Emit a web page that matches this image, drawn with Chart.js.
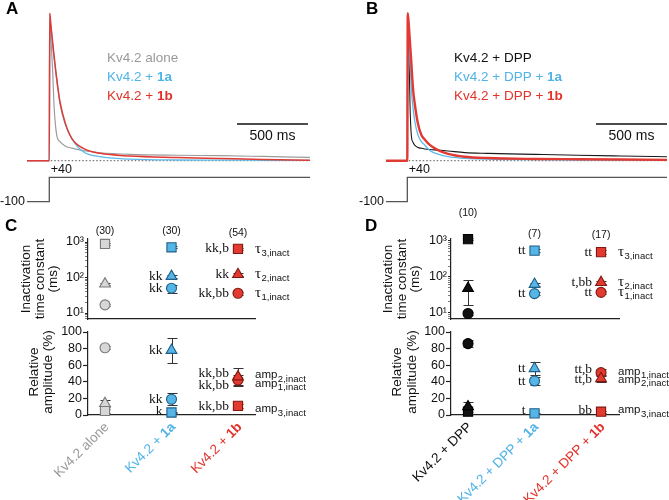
<!DOCTYPE html>
<html lang="en">
<head>
<meta charset="UTF-8">
<title>Kv4.2 inactivation with 1a / 1b</title>
<script src="https://cdn.jsdelivr.net/npm/chart.js"></script>
<style>
  body { margin: 0; background: #fff; }
  #fig { position: relative; width: 669px; height: 500px; overflow: hidden; }
  #fig canvas { position: absolute; left: 0; top: 0; }
</style>
</head>
<body>
<div id="fig">
  <canvas id="traceA" width="669" height="500"></canvas>
  <canvas id="traceB" width="669" height="500"></canvas>
  <canvas id="tauC" width="669" height="500"></canvas>
  <canvas id="ampC" width="669" height="500"></canvas>
  <canvas id="tauD" width="669" height="500"></canvas>
  <canvas id="ampD" width="669" height="500"></canvas>
</div>
<script>
  // ---------- traces (current normalised to peak, time in ms from the step) ----------
  const tA = [-157, 0, 3, 12, 24, 33, 52, 75, 111, 158, 239, 357, 568, 900, 1200, 1500, 1835];
  const aloneA = [0, 0, 1.0, 0.82, 0.60, 0.38, 0.175, 0.129, 0.10, 0.085, 0.068, 0.054, 0.043, 0.037, 0.034, 0.029, 0.023];
  const with1aA = [0, 0, 0.98, 0.90, 0.78, 0.70, 0.55, 0.39, 0.25, 0.15, 0.061, 0.027, 0.011, 0.005, 0.004, 0.003, 0.002];
  const with1bA = [0, 0, 1.0, 0.91, 0.80, 0.717, 0.559, 0.40, 0.26, 0.152, 0.084, 0.05, 0.032, 0.022, 0.015, 0.008, 0.003];

  const tB = [-150, 0, 3, 12, 19, 28, 40, 52, 75, 99, 122, 158, 216, 287, 404, 568, 900, 1200, 1500, 1828];
  const dppB = [0, 0, 1.0, 0.717, 0.38, 0.174, 0.125, 0.106, 0.09, 0.084, 0.08, 0.076, 0.072, 0.066, 0.055, 0.05, 0.043, 0.037, 0.032, 0.027];
  const dpp1aB = [0, 0, 1.0, 0.85, 0.69, 0.49, 0.36, 0.27, 0.174, 0.13, 0.107, 0.07, 0.045, 0.027, 0.016, 0.011, 0.007, 0.005, 0.004, 0.003];
  const dpp1bB = [0, 0, 1.0, 0.90, 0.80, 0.67, 0.49, 0.39, 0.25, 0.174, 0.145, 0.107, 0.072, 0.047, 0.027, 0.018, 0.012, 0.01, 0.008, 0.006];

  // voltage protocol (mV) and the 500 ms scale bar
  const stepT = [-300, 0, 0, 2000];
  const stepMV = [-100, -100, 40, 40];
  const barLevel = 0.249;
  const barA = [1321, 1821];
  const barB = [1328, 1828];

  // ---------- summary data ----------
  const catsC = ['Kv4.2 alone', 'Kv4.2 + 1a', 'Kv4.2 + 1b'];
  const nC = ['(30)', '(30)', '(54)'];
  const tau1C = [17, 50, 36], tau1CErr = [1.5, 13, 3];
  const tau2C = [66, 108, 122], tau2CErr = [6, 10, 10];
  const tau3C = [880, 710, 640], tau3CErr = [60, 50, 60];
  const amp1C = [81, 19, 42], amp1CErr = [2, 7, 6];
  const amp2C = [14, 78, 46], amp2CErr = [4, 15, 11];
  const amp3C = [5, 3, 11], amp3CErr = [2, 1, 2];
  const sigTau1C = ['', 'kk', 'kk,bb'], sigTau2C = ['', 'kk', 'kk'], sigTau3C = ['', '', 'kk,b'];
  const sigAmp1C = ['', 'kk', 'kk,bb'], sigAmp2C = ['', 'kk', 'kk,bb'], sigAmp3C = ['', 'k', 'kk,bb'];

  const catsD = ['Kv4.2 + DPP', 'Kv4.2 + DPP + 1a', 'Kv4.2 + DPP + 1b'];
  const nD = ['(10)', '(7)', '(17)'];
  const tau1D = [9.5, 34, 37], tau1DErr = [1, 3, 3];
  const tau2D = [48, 62, 70], tau2DErr = [32, 5, 6];
  const tau3D = [1130, 540, 490], tau3DErr = [80, 50, 60];
  const amp1D = [86, 41, 51], amp1DErr = [4, 5, 4];
  const amp2D = [10, 56, 44], amp2DErr = [6, 8, 4];
  const amp3D = [4, 2, 4], amp3DErr = [3, 1, 1];
  const sigTau1D = ['', 'tt', 'tt'], sigTau2D = ['', '', 't,bb'], sigTau3D = ['', 'tt', 'tt'];
  const sigAmp1D = ['', 'tt', 'tt,b'], sigAmp2D = ['', 'tt', 'tt,b'], sigAmp3D = ['', 't', 'bb'];

  const logTicks = [10, 100, 1000];
  const logTickLabels = ['10¹', '10²', '10³'];
  const ampTicks = [0, 20, 40, 60, 80, 100];

  // ---------- colours ----------
  const textC = ['#9a9a9a', '#4fb3e6', '#e2332b'];
  const fillC = ['#d7d7d7', '#55b5e7', '#e23a2f'];
  const edgeC = ['#7a7a7a', '#1f5f86', '#7f1812'];
  const textD = ['#111111', '#4fb3e6', '#e2332b'];
  const fillD = ['#111111', '#55b5e7', '#e23a2f'];
  const edgeD = ['#000000', '#1f5f86', '#7f1812'];

  const SANS = '"Liberation Sans", Arial, Helvetica, sans-serif';
  const SERIF = '"Liberation Serif", "Times New Roman", serif';
  const font = (size, bold) => (bold ? 'bold ' : '') + size + 'px ' + SANS;

  // "Kv4.2 + 1a" -> plain part + bold "1a"
  function labelParts(label) {
    const k = label.lastIndexOf(' ');
    const tail = label.slice(k + 1);
    if (/^1[ab]$/.test(tail)) return [[label.slice(0, k + 1), false], [tail, true]];
    return [[label, false]];
  }

  function drawParts(ctx, label, x, y, color, size, align) {
    const parts = labelParts(label);
    let w = 0;
    parts.forEach(([t, b]) => { ctx.font = font(size, b); w += ctx.measureText(t).width; });
    let cx = align === 'right' ? x - w : x;
    ctx.fillStyle = color;
    ctx.textAlign = 'left';
    ctx.textBaseline = 'middle';
    parts.forEach(([t, b]) => { ctx.font = font(size, b); ctx.fillText(t, cx, y); cx += ctx.measureText(t).width; });
  }

  const common = {
    responsive: false,
    animation: false,
    events: [],
    plugins: { legend: { display: false }, tooltip: { enabled: false } }
  };

  // ---------- panels A and B ----------
  function traceChart(id, cfg) {
    const datasets = cfg.traces.map(tr => ({
      data: cfg.t.map((t, i) => ({ x: t, y: tr.values[i] })),
      borderColor: tr.color,
      borderWidth: tr.width,
      pointRadius: 0,
      cubicInterpolationMode: 'monotone'
    }));
    datasets.push({
      data: [{ x: -1000, y: 0 }, { x: 3000, y: 0 }],
      borderColor: '#555', borderWidth: 1, borderDash: [1.5, 2], pointRadius: 0
    });
    datasets.push({
      yAxisID: 'v',
      data: stepT.map((t, i) => ({ x: t, y: stepMV[i] })),
      borderColor: '#555', borderWidth: 1.3, pointRadius: 0
    });
    datasets.push({
      data: cfg.bar.map(t => ({ x: t, y: barLevel })),
      borderColor: '#111', borderWidth: 1.6, pointRadius: 0
    });

    const textPlugin = {
      id: 'traceText',
      afterDraw(chart) {
        const { ctx, chartArea, scales: { x, y, v } } = chart;
        ctx.save();
        ctx.fillStyle = '#000';
        ctx.font = font(17, true);
        ctx.textAlign = 'left';
        ctx.textBaseline = 'middle';
        ctx.fillText(cfg.letter, cfg.letterX, 9);
        [58, 77, 96.5].forEach((ly, i) => drawParts(ctx, cfg.legend[i], cfg.legendX, ly, cfg.legendColors[i], 13.5, 'left'));
        ctx.fillStyle = '#111';
        ctx.font = font(12.5);
        ctx.textAlign = 'right';
        ctx.textBaseline = 'middle';
        ctx.fillText('-100', chartArea.left - 2, v.getPixelForValue(-100));
        ctx.textAlign = 'left';
        ctx.textBaseline = 'bottom';
        ctx.fillText('+40', x.getPixelForValue(0) + 1.5, v.getPixelForValue(40) - 1);
        ctx.font = font(14);
        ctx.textAlign = 'center';
        ctx.textBaseline = 'top';
        const mid = (x.getPixelForValue(cfg.bar[0]) + x.getPixelForValue(cfg.bar[1])) / 2;
        ctx.fillText('500 ms', mid, y.getPixelForValue(barLevel) + 5);
        ctx.restore();
      }
    };

    return new Chart(document.getElementById(id), {
      type: 'line',
      data: { datasets },
      options: {
        ...common,
        layout: { padding: cfg.pad },
        scales: {
          x: { type: 'linear', display: false, min: cfg.xMin, max: cfg.xMax },
          y: { display: false, min: -0.314, max: 1.036 },
          v: { display: false, min: -130.4, max: 1011, position: 'left' }
        }
      },
      plugins: [textPlugin]
    });
  }

  traceChart('traceA', {
    t: tA,
    traces: [
      { values: with1bA, color: '#e23a33', width: 1.5 },
      { values: with1aA, color: '#5cbbe9', width: 1.3 },
      { values: aloneA, color: '#9c9c9c', width: 1.2 }
    ],
    bar: barA, xMin: -157, xMax: 1835,
    pad: { left: 27, right: 359, top: 8, bottom: 293 },
    letter: 'A', letterX: 6,
    legend: catsC, legendColors: textC, legendX: 107
  });

  traceChart('traceB', {
    t: tB,
    traces: [
      { values: dpp1bB, color: '#e23a33', width: 2.4 },
      { values: dpp1aB, color: '#5cbbe9', width: 1.3 },
      { values: dppB, color: '#1a1a1a', width: 1.1 }
    ],
    bar: barB, xMin: -150, xMax: 1828,
    pad: { left: 386, right: 2, top: 8, bottom: 293 },
    letter: 'B', letterX: 366,
    legend: catsD, legendColors: textD, legendX: 454
  });

  // ---------- panels C and D ----------
  function dotChart(id, cfg) {
    const datasets = cfg.series.map(s => ({
      data: s.values.map((val, i) => ({ x: i, y: val })),
      err: s.err, sig: s.sig, sigY: s.sigY || [], tag: s.tag, tagY: s.tagY,
      pointStyle: s.style,
      pointRadius: s.radius,
      pointBackgroundColor: cfg.fill,
      pointBorderColor: cfg.edge,
      pointBorderWidth: 1.1,
      showLine: false,
      clip: false
    }));

    const isLog = cfg.log;
    const yScale = {
      type: isLog ? 'logarithmic' : 'linear',
      min: cfg.yMin, max: cfg.yMax,
      afterBuildTicks: s => {
        if (isLog) {
          const vals = [];
          for (let d = 1; d <= 1000; d *= 10) {
            for (let m = 1; m < 10; m++) {
              const v = d * m;
              if (v >= cfg.yMin && v <= cfg.yMax) vals.push(v);
            }
          }
          s.ticks = vals.map(v => ({ value: v }));
        } else {
          s.ticks = ampTicks.map(v => ({ value: v }));
        }
      },
      afterFit: s => { s.width = 40; },
      ticks: {
        autoSkip: false,
        padding: 1,
        color: '#111',
        font: { family: SANS, size: 12.5 },
        callback: v => isLog ? (logTicks.includes(v) ? logTickLabels[logTicks.indexOf(v)] : '') : String(v)
      },
      grid: {
        drawOnChartArea: false,
        tickLength: isLog ? 3 : 5,
        tickColor: '#222',
        tickWidth: c => (!isLog || logTicks.includes(c.tick && c.tick.value)) ? 1.2 : 0.6
      },
      border: { color: '#222', width: 1.2 }
    };

    const textPlugin = {
      id: 'dotText',
      beforeDatasetsDraw(chart) {
        const { ctx, scales: { x, y } } = chart;
        ctx.save();
        ctx.strokeStyle = '#333';
        ctx.lineWidth = 1;
        chart.data.datasets.forEach(ds => ds.data.forEach((p, i) => {
          const e = ds.err[i];
          if (!e) return;
          const px = Math.round(x.getPixelForValue(p.x)) + 0.5;
          const top = Math.round(y.getPixelForValue(p.y + e)) + 0.5;
          const bot = Math.round(y.getPixelForValue(Math.max(p.y - e, isLog ? cfg.yMin : 0))) + 0.5;
          ctx.beginPath();
          ctx.moveTo(px, top); ctx.lineTo(px, bot);
          ctx.moveTo(px - 5, top); ctx.lineTo(px + 5, top);
          ctx.moveTo(px - 5, bot); ctx.lineTo(px + 5, bot);
          ctx.stroke();
        }));
        ctx.restore();
      },
      afterDraw(chart) {
        const { ctx, scales: { x, y } } = chart;
        ctx.save();
        // significance marks
        ctx.fillStyle = '#111';
        ctx.font = '13.5px ' + SERIF;
        ctx.textAlign = 'right';
        ctx.textBaseline = 'middle';
        chart.data.datasets.forEach(ds => ds.data.forEach((p, i) => {
          if (!ds.sig[i]) return;
          const yy = ds.sigY[i] != null ? ds.sigY[i] : p.y;
          ctx.fillText(ds.sig[i], x.getPixelForValue(p.x) - 9, y.getPixelForValue(yy));
        }));
        // parameter names at the right
        chart.data.datasets.forEach(ds => {
          const px = x.getPixelForValue(2) + 17;
          const py = y.getPixelForValue(ds.tagY != null ? ds.tagY : ds.data[2].y);
          ctx.textAlign = 'left';
          ctx.textBaseline = 'middle';
          ctx.fillStyle = '#111';
          ctx.font = ds.tag[0] === 'τ' ? '15px ' + SERIF : font(11.5);
          ctx.fillText(ds.tag[0], px, py);
          const w = ctx.measureText(ds.tag[0]).width;
          ctx.font = font(9.5);
          ctx.fillText(ds.tag[1], px + w + 0.5, py + 4);
        });
        // axis title
        ctx.fillStyle = '#111';
        ctx.font = font(13.5);
        ctx.textAlign = 'center';
        ctx.textBaseline = 'middle';
        cfg.title.forEach((line, i) => {
          ctx.save();
          ctx.translate(cfg.titleX[i], cfg.titleY);
          ctx.rotate(-Math.PI / 2);
          ctx.fillText(line, 0, 0);
          ctx.restore();
        });
        // n numbers and panel letter
        if (cfg.counts) {
          ctx.font = font(10.5);
          ctx.textAlign = 'center';
          cfg.counts.forEach((c, i) => ctx.fillText(c, x.getPixelForValue(i), cfg.countY[i]));
          ctx.font = font(17, true);
          ctx.textAlign = 'left';
          ctx.fillStyle = '#000';
          ctx.fillText(cfg.letter, cfg.letterX, 226);
        }
        // rotated group names
        if (cfg.cats) {
          cfg.cats.forEach((c, i) => {
            ctx.save();
            ctx.translate(x.getPixelForValue(i) + 2, 425);
            ctx.rotate(-Math.PI / 4);
            drawParts(ctx, c, 0, 0, cfg.catColors[i], 13.5, 'right');
            ctx.restore();
          });
        }
        ctx.restore();
      }
    };

    return new Chart(document.getElementById(id), {
      type: 'scatter',
      data: { datasets },
      options: {
        ...common,
        layout: { padding: cfg.pad },
        scales: {
          x: {
            type: 'linear', min: cfg.xMin, max: cfg.xMax,
            afterFit: s => { s.height = 0; },
            ticks: { display: false },
            grid: { display: false },
            border: { color: '#222', width: 1.2 }
          },
          y: yScale
        }
      },
      plugins: [textPlugin]
    });
  }

  const tauTitle = ['Inactivation', 'time constant', '(ms)'];
  const ampTitle = ['Relative', 'amplitude (%)'];

  dotChart('tauC', {
    log: true, yMin: 6.78, yMax: 1215, xMin: -0.256, xMax: 2.256,
    pad: { left: 48, right: 414, top: 239, bottom: 181 },
    fill: fillC, edge: edgeC,
    series: [
      { values: tau2C, err: tau2CErr, sig: sigTau2C, style: 'triangle', radius: 6.2, tag: ['τ', '2,inact'] },
      { values: tau1C, err: tau1CErr, sig: sigTau1C, style: 'circle', radius: 5, tag: ['τ', '1,inact'] },
      { values: tau3C, err: tau3CErr, sig: sigTau3C, style: 'rect', radius: 6.5, tag: ['τ', '3,inact'] }
    ],
    title: tauTitle, titleX: [26.5, 40, 53.5], titleY: 279,
    counts: nC, countY: [231, 231, 233], letter: 'C', letterX: 5
  });

  dotChart('ampC', {
    log: false, yMin: 0, yMax: 100, xMin: -0.256, xMax: 2.256,
    pad: { left: 48, right: 414, top: 332, bottom: 85 },
    fill: fillC, edge: edgeC,
    series: [
      { values: amp2C, err: amp2CErr, sig: sigAmp2C, sigY: [null, null, 49.5], style: 'triangle', radius: 6.2, tag: ['amp', '2,inact'], tagY: 48 },
      { values: amp1C, err: amp1CErr, sig: sigAmp1C, sigY: [null, null, 36], style: 'circle', radius: 5, tag: ['amp', '1,inact'], tagY: 38 },
      { values: amp3C, err: amp3CErr, sig: sigAmp3C, sigY: [null, 4, 10], style: 'rect', radius: 6.5, tag: ['amp', '3,inact'], tagY: 7 }
    ],
    title: ampTitle, titleX: [34, 48], titleY: 372,
    cats: catsC, catColors: textC
  });

  dotChart('tauD', {
    log: true, yMin: 6.67, yMax: 1137, xMin: -0.256, xMax: 2.27,
    pad: { left: 411, right: 50, top: 239, bottom: 181 },
    fill: fillD, edge: edgeD,
    series: [
      { values: tau2D, err: tau2DErr, sig: sigTau2D, style: 'triangle', radius: 6.2, tag: ['τ', '2,inact'] },
      { values: tau1D, err: tau1DErr, sig: sigTau1D, style: 'circle', radius: 5, tag: ['τ', '1,inact'] },
      { values: tau3D, err: tau3DErr, sig: sigTau3D, style: 'rect', radius: 6.5, tag: ['τ', '3,inact'] }
    ],
    title: tauTitle, titleX: [388.5, 402, 415.5], titleY: 279,
    counts: nD, countY: [213, 234, 235], letter: 'D', letterX: 365
  });

  dotChart('ampD', {
    log: false, yMin: 0, yMax: 100, xMin: -0.256, xMax: 2.27,
    pad: { left: 411, right: 50, top: 332, bottom: 85 },
    fill: fillD, edge: edgeD,
    series: [
      { values: amp2D, err: amp2DErr, sig: sigAmp2D, sigY: [null, null, 43], style: 'triangle', radius: 6.2, tag: ['amp', '2,inact'], tagY: 42.4 },
      { values: amp1D, err: amp1DErr, sig: sigAmp1D, sigY: [null, null, 55], style: 'circle', radius: 5, tag: ['amp', '1,inact'], tagY: 52.4 },
      { values: amp3D, err: amp3DErr, sig: sigAmp3D, sigY: [null, 6, 6], style: 'rect', radius: 6.5, tag: ['amp', '3,inact'], tagY: 6 }
    ],
    title: ampTitle, titleX: [397, 412], titleY: 372,
    cats: catsD, catColors: textD
  });
</script>
</body>
</html>
